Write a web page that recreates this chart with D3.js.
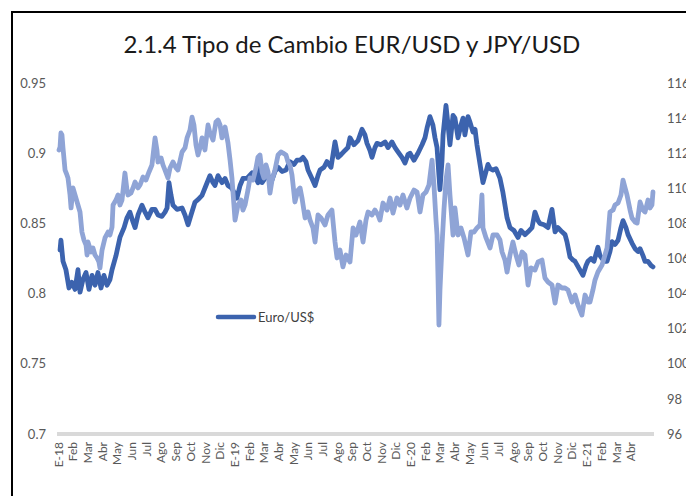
<!DOCTYPE html>
<html>
<head>
<meta charset="utf-8">
<script src="https://cdn.jsdelivr.net/npm/d3@7"></script>
<style>
  html, body { margin: 0; padding: 0; background: #ffffff; }
  svg { display: block; }
</style>
</head>
<body>
<svg id="chart" width="686" height="496"></svg>
<script>
// ---- DATA (time in months since January 2018) ----
const title = "2.1.4 Tipo de Cambio EUR/USD y JPY/USD";
const monthLabels = ["E-18","Feb","Mar","Abr","May","Jun","Jul","Ago","Sep","Oct","Nov","Dic",
  "E-19","Feb","Mar","Abr","May","Jun","Jul","Ago","Sep","Oct","Nov","Dic",
  "E-20","Feb","Mar","Abr","May","Jun","Jul","Ago","Sep","Oct","Nov","Dic",
  "E-21","Feb","Mar","Abr"];
const leftTicks = [0.7, 0.75, 0.8, 0.85, 0.9, 0.95];
const leftTickLabels = ["0.7","0.75","0.8","0.85","0.9","0.95"];
const rightTicks = [96, 98, 100, 102, 104, 106, 108, 110, 112, 114, 116];
const legendLabel = "Euro/US$";

const eurT = [0.14,0.20,0.34,0.54,0.75,0.95,1.16,1.36,1.50,1.70,1.91,2.11,2.32,2.52,2.72,2.93,3.13,3.34,3.54,3.68,
  3.95,4.22,4.50,4.70,4.90,5.11,5.25,5.45,5.72,5.93,6.13,6.40,6.61,6.81,7.08,7.29,7.43,7.56,7.70,7.83,
  8.11,8.45,8.65,8.86,9.06,9.33,9.54,9.81,10.08,10.35,10.56,10.69,10.90,11.17,11.38,11.58,11.85,12.19,12.40,12.60,
  12.87,13.22,13.42,13.62,13.76,13.90,14.10,14.31,14.58,14.78,14.99,15.26,15.53,15.80,16.08,16.28,16.49,16.69,16.89,17.03,
  17.30,17.51,17.71,17.85,18.12,18.32,18.60,18.87,19.07,19.28,19.55,19.75,19.89,20.16,20.44,20.71,20.91,21.05,21.25,21.39,
  21.59,21.73,22.00,22.28,22.48,22.75,22.96,23.16,23.43,23.64,23.84,23.98,24.25,24.52,24.80,25.00,25.14,25.34,25.54,25.68,
  25.82,25.95,26.02,26.16,26.23,26.43,26.57,26.70,26.84,26.91,27.04,27.25,27.45,27.59,27.72,27.93,28.07,28.27,28.41,28.54,
  28.75,28.95,29.16,29.29,29.43,29.63,29.84,30.11,30.31,30.59,30.79,31.06,31.34,31.54,31.81,32.02,32.29,32.49,32.70,32.83,
  33.11,33.38,33.65,33.86,34.06,34.33,34.54,34.67,34.88,35.08,35.22,35.49,35.76,35.97,36.10,36.31,36.51,36.78,36.92,37.06,
  37.26,37.40,37.60,37.74,37.94,38.15,38.35,38.49,38.69,38.83,39.10,39.31,39.51,39.65,39.85,39.99,40.19,40.40,40.53];
const eurValues = [0.831,0.838,0.823,0.817,0.804,0.808,0.803,0.817,0.801,0.810,0.815,0.803,0.813,0.806,0.815,0.804,0.813,0.806,0.810,0.817,
  0.827,0.840,0.847,0.854,0.858,0.851,0.847,0.856,0.863,0.858,0.854,0.860,0.860,0.856,0.855,0.858,0.861,0.879,0.870,0.863,
  0.860,0.861,0.856,0.849,0.856,0.865,0.867,0.870,0.877,0.884,0.879,0.877,0.884,0.879,0.882,0.877,0.875,0.868,0.877,0.882,
  0.882,0.886,0.884,0.879,0.892,0.879,0.882,0.884,0.881,0.887,0.890,0.887,0.888,0.894,0.892,0.895,0.895,0.897,0.894,0.888,
  0.882,0.877,0.884,0.888,0.890,0.894,0.890,0.908,0.897,0.899,0.902,0.904,0.911,0.906,0.909,0.917,0.913,0.907,0.902,0.897,
  0.904,0.907,0.906,0.908,0.904,0.908,0.904,0.901,0.897,0.893,0.899,0.900,0.895,0.900,0.906,0.911,0.918,0.926,0.920,0.911,
  0.904,0.884,0.874,0.895,0.913,0.934,0.920,0.906,0.920,0.927,0.925,0.911,0.920,0.925,0.913,0.926,0.922,0.915,0.917,0.906,
  0.892,0.879,0.887,0.892,0.889,0.888,0.889,0.882,0.872,0.854,0.847,0.845,0.840,0.845,0.842,0.844,0.847,0.858,0.852,0.850,
  0.849,0.847,0.860,0.844,0.847,0.844,0.842,0.837,0.826,0.824,0.823,0.818,0.813,0.820,0.823,0.825,0.823,0.833,0.827,0.825,
  0.823,0.823,0.830,0.837,0.835,0.838,0.847,0.852,0.847,0.842,0.836,0.832,0.830,0.832,0.827,0.823,0.823,0.820,0.819];

const jpyT = [0.07,0.14,0.20,0.27,0.34,0.48,0.61,0.68,0.82,0.89,1.02,1.16,1.36,1.50,1.63,1.77,1.91,1.98,2.04,2.25,
  2.38,2.52,2.66,2.79,2.86,3.00,3.20,3.41,3.54,3.68,3.75,3.95,4.09,4.22,4.36,4.56,4.70,4.77,4.97,5.11,
  5.25,5.45,5.59,5.79,5.99,6.20,6.40,6.61,6.74,6.81,7.02,7.15,7.29,7.49,7.63,7.83,8.04,8.17,8.45,8.65,
  8.79,8.99,9.13,9.26,9.40,9.54,9.67,9.81,10.01,10.22,10.35,10.56,10.76,10.90,11.04,11.17,11.38,11.58,11.72,11.85,
  12.06,12.26,12.47,12.60,12.74,12.94,13.08,13.28,13.49,13.62,13.76,13.90,14.03,14.17,14.31,14.44,14.58,14.78,14.99,15.19,
  15.33,15.53,15.67,15.80,15.94,16.14,16.35,16.49,16.62,16.83,17.03,17.17,17.37,17.51,17.71,17.92,18.19,18.39,18.66,18.87,
  19.01,19.21,19.41,19.62,19.89,20.10,20.30,20.57,20.78,20.98,21.12,21.39,21.59,21.80,21.93,22.14,22.41,22.62,22.82,23.09,
  23.30,23.50,23.77,23.98,24.25,24.46,24.66,24.86,25.07,25.27,25.48,25.61,25.75,25.82,25.89,25.95,26.02,26.16,26.29,26.43,
  26.57,26.70,26.91,27.04,27.25,27.45,27.66,27.93,28.13,28.34,28.54,28.75,28.88,28.95,29.16,29.43,29.63,29.91,30.11,30.25,
  30.45,30.59,30.79,30.99,31.20,31.40,31.61,31.81,32.02,32.22,32.49,32.70,32.97,33.17,33.38,33.65,33.86,34.06,34.33,34.54,
  34.74,35.01,35.22,35.42,35.69,35.90,36.10,36.24,36.44,36.58,36.78,37.06,37.26,37.40,37.60,37.81,37.94,38.15,38.35,38.49,
  38.63,38.76,38.97,39.10,39.31,39.45,39.65,39.85,39.99,40.19,40.33,40.46,40.53];
const jpyValues = [112.18,112.35,113.15,113.04,112.30,111.04,110.76,110.59,109.62,108.88,110.02,109.62,109.05,108.65,107.51,107.05,106.77,106.20,106.94,106.37,
  106.60,106.20,106.03,105.80,105.46,106.48,107.17,107.51,107.34,107.79,109.05,109.33,109.62,109.05,109.33,110.87,109.90,109.62,109.73,110.02,
  110.36,110.02,110.19,110.64,110.47,110.93,111.33,112.87,112.18,111.50,111.73,111.33,111.04,110.59,111.16,111.50,111.16,111.04,112.07,112.30,
  112.87,113.32,114.06,113.61,112.47,111.90,112.30,112.87,112.18,113.61,113.15,112.75,113.78,113.89,113.61,112.87,113.49,112.58,111.61,110.59,
  108.19,109.05,109.33,108.76,109.05,109.90,110.59,110.47,111.16,111.78,111.90,110.93,110.59,111.33,110.93,109.73,110.47,111.04,111.90,112.07,
  112.01,111.90,111.50,111.33,110.76,109.22,109.90,110.02,109.45,108.31,108.65,108.19,107.74,106.94,108.48,108.31,107.91,108.48,108.76,106.94,
  106.03,106.48,105.52,106.20,105.80,107.74,107.34,108.08,106.94,108.19,108.65,108.48,108.76,108.48,108.19,109.16,108.76,109.45,108.59,109.45,
  109.05,109.62,108.88,109.45,109.90,109.79,108.65,109.62,109.79,110.19,111.61,110.19,108.19,107.34,104.77,102.21,104.21,106.77,108.76,110.47,
  111.33,109.62,107.34,108.88,107.34,107.74,107.17,106.20,107.51,107.51,107.74,107.91,109.62,107.74,107.17,106.60,107.34,107.34,107.05,106.37,
  105.91,105.23,106.20,106.94,106.20,105.63,106.37,106.20,104.49,105.46,105.34,105.80,105.91,104.89,104.66,104.49,103.46,104.49,104.32,104.32,
  104.21,103.52,103.92,103.35,102.78,103.92,103.52,103.52,104.21,104.77,105.23,105.63,106.20,106.60,108.65,108.76,109.05,109.16,109.62,110.47,
  110.02,109.62,108.76,108.31,108.08,108.02,109.22,108.76,108.65,109.33,108.88,109.05,109.79];

// ---- CHART ----
const svg = d3.select("#chart");
const W = 686, H = 496;
const darkBlue = "#3c63ae", lightBlue = "#8fa4d6";
const textGray = "#595959";
const font = "Lato, 'Open Sans', sans-serif";

svg.append("rect").attr("width", W).attr("height", H).attr("fill", "#fff");
// outer chart frame (extends beyond the visible area, as in the reference crop)
svg.append("rect").attr("x", 12).attr("y", 12).attr("width", W + 40).attr("height", H + 40)
  .attr("fill", "none").attr("stroke", "#000").attr("stroke-width", 2);

const x = d3.scaleLinear().domain([0, 40.6]).range([58, 654]);
const yL = d3.scaleLinear().domain([0.7, 0.95]).range([434, 83]);
const yR = d3.scaleLinear().domain([96, 116]).range([434, 83]);

// title
svg.append("text").attr("x", 352).attr("y", 53).attr("text-anchor", "middle")
  .attr("font-family", font).attr("font-size", 24).attr("fill", "#1a1a1a").text(title);

// left axis
const leftAxis = d3.axisLeft(yL).tickValues(leftTicks).tickSize(0).tickPadding(0)
  .tickFormat((d, i) => leftTickLabels[i]);
const gL = svg.append("g").attr("transform", "translate(46,0)").call(leftAxis);
gL.select(".domain").remove();
gL.selectAll("text").attr("font-family", font).attr("font-size", 13).attr("fill", textGray);

// right axis (partly cut by the right edge, as in the reference)
const rightAxis = d3.axisRight(yR).tickValues(rightTicks).tickSize(0).tickPadding(0)
  .tickFormat(d3.format("d"));
const gR = svg.append("g").attr("transform", "translate(667,0)").call(rightAxis);
gR.select(".domain").remove();
gR.selectAll("text").attr("font-family", font).attr("font-size", 13).attr("fill", textGray);

// category axis line
svg.append("line").attr("x1", x(0) - 1).attr("x2", x(40.6)).attr("y1", yL(0.7)).attr("y2", yL(0.7))
  .attr("stroke", "#d9d9d9").attr("stroke-width", 4);

// month labels (rotated)
const monthIdx = d3.range(monthLabels.length);
const xAxis = d3.axisBottom(x).tickValues(monthIdx).tickSize(0).tickPadding(0)
  .tickFormat(i => monthLabels[i]);
const gX = svg.append("g").attr("transform", `translate(0,${yL(0.7) + 8})`).call(xAxis);
gX.select(".domain").remove();
gX.selectAll("text")
  .attr("font-family", font).attr("font-size", 12).attr("fill", textGray)
  .attr("text-anchor", "end").attr("dy", "0.35em").attr("y", 0).attr("x", 0)
  .attr("transform", "rotate(-90)");

// lines
const eurData = eurT.map((t, i) => ({ t, v: eurValues[i] }));
const jpyData = jpyT.map((t, i) => ({ t, v: jpyValues[i] }));
const lineL = d3.line().x(d => x(d.t)).y(d => yL(d.v));
const lineR = d3.line().x(d => x(d.t)).y(d => yR(d.v));

svg.append("path").datum(eurData).attr("d", lineL).attr("fill", "none")
  .attr("stroke", darkBlue).attr("stroke-width", 4.8)
  .attr("stroke-linejoin", "round").attr("stroke-linecap", "round");
svg.append("path").datum(jpyData).attr("d", lineR).attr("fill", "none")
  .attr("stroke", lightBlue).attr("stroke-width", 4.8)
  .attr("stroke-linejoin", "round").attr("stroke-linecap", "round");

// legend
svg.append("line").attr("x1", 218).attr("x2", 254).attr("y1", 317).attr("y2", 317)
  .attr("stroke", darkBlue).attr("stroke-width", 4.5).attr("stroke-linecap", "round");
svg.append("text").attr("x", 258).attr("y", 322).attr("font-family", font).attr("font-size", 13)
  .attr("fill", "#404040").text(legendLabel);
</script>
</body>
</html>
